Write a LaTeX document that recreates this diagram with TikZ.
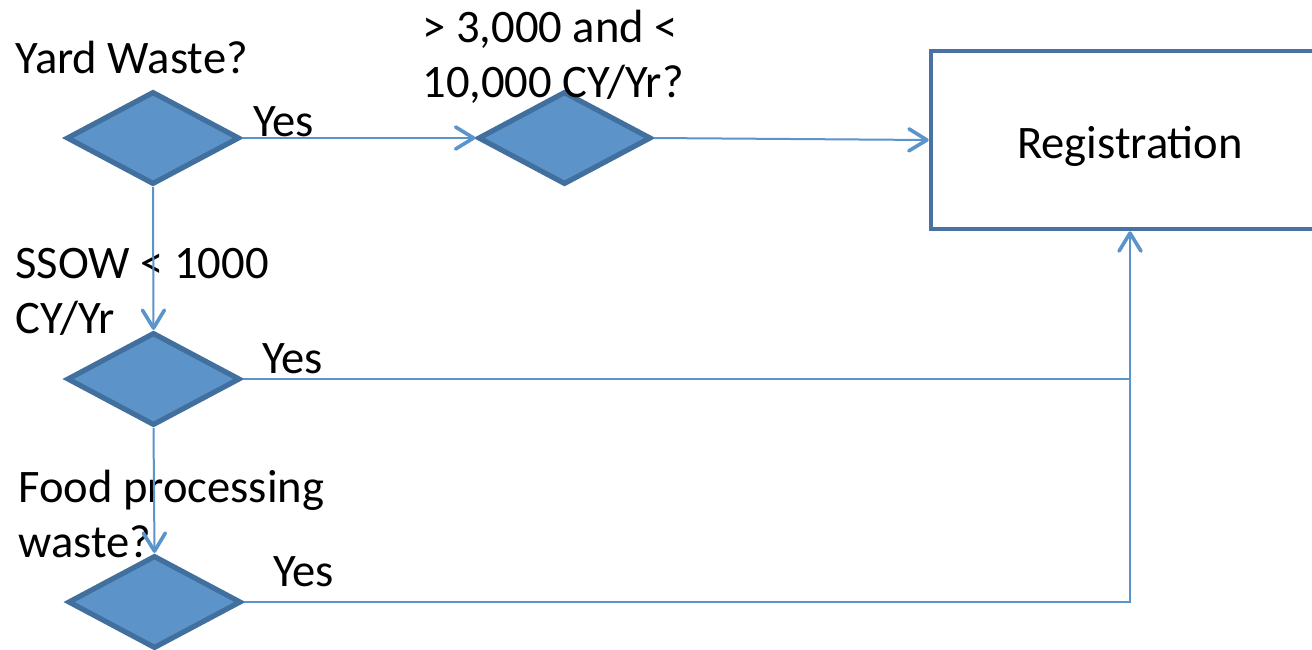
\documentclass[tikz,border=0pt]{standalone}
\usepackage{fontspec}
\setmainfont{Carlito}
\usetikzlibrary{shapes.geometric,arrows.meta}
\definecolor{dfill}{HTML}{5C94C9}
\definecolor{dborder}{HTML}{41709E}
\definecolor{lineblue}{HTML}{5B94CA}
\definecolor{boxborder}{HTML}{4872A2}
\tikzset{
  decision/.style={diamond, draw=dborder, fill=dfill, line width=2.6pt,
    minimum width=86.5pt, minimum height=46.5pt, inner sep=0pt},
  regbox/.style={rectangle, draw=boxborder, fill=white, line width=2.3pt,
    minimum width=199pt, minimum height=89pt, inner sep=0pt,
    text height=22.6pt, text depth=4.6pt, font=\fontsize{23.3}{27.5}\selectfont},
  lbl/.style={anchor=base west, inner sep=0pt, align=left,
    font=\fontsize{23.3}{27.5}\selectfont},
  conn/.style={draw=lineblue, line width=1pt,
    -{Straight Barb[length=9pt,width=11pt,line width=1.8pt,round]}},
  plain/.style={draw=lineblue, line width=1pt},
}
\begin{document}
\begin{tikzpicture}[x=0.5pt,y=-0.5pt]
\clip (0,0) rectangle (1312,649);
\fill[white] (0,0) rectangle (1312,649);
% shapes
\node[decision] (d1) at (153,138) {};
\node[decision] (d2) at (564.5,138) {};
\node[decision] (d3) at (153.5,379) {};
\node[decision] (d4) at (154.5,602) {};
\node[regbox] (reg) at (1130,140) {Registration};
% labels (base anchor = baseline of the last line)
\node[lbl] (t1) at (15,73) {Yard Waste?};
\node[lbl] (t2) at (422,97) {> 3,000 and <\\10,000 CY/Yr?};
\node[lbl] (t3) at (15,333) {SSOW < 1000\\CY/Yr};
\node[lbl] (t4) at (18,557) {Food processing\\waste?};
\node[lbl] (y1) at (253,136) {Yes};
\node[lbl] (y2) at (262,373) {Yes};
\node[lbl] (y3) at (273,586) {Yes};
% connectors
\coordinate (j1) at (d3.east -| reg.south);
\coordinate (j2) at (d4.east -| reg.south);
\draw[conn] (d1.east) -- (d2.west);
\draw[conn] (d2.east) -- (reg.west);
\draw[conn] (d1.south) -- (d3.north);
\draw[conn] (d3.south) -- (d4.north);
\draw[plain] (d3.east) -- (j1);
\draw[conn] (d4.east) -- (j2) -- (reg.south);
\end{tikzpicture}
\end{document}
